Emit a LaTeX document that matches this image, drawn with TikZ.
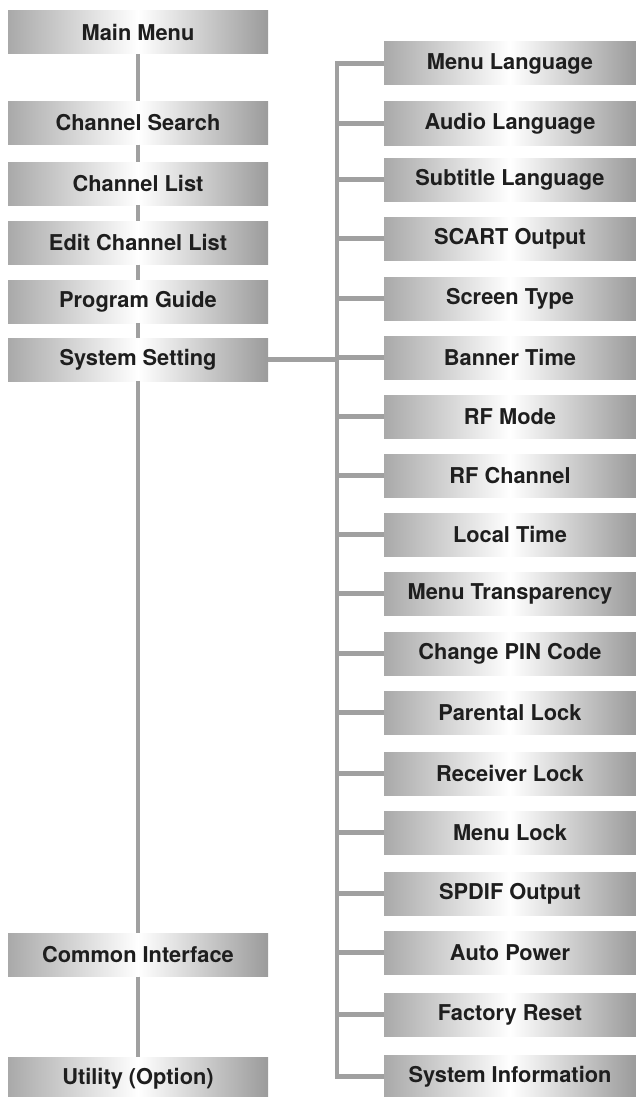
\documentclass[tikz,border=0pt]{standalone}
\usepackage{fontspec}
\setmainfont{TeX Gyre Heros}
\usepackage{tikz}
\usetikzlibrary{
  positioning,
  calc
}
\definecolor{boxleft}{HTML}{A9A9A9}
\definecolor{boxright}{HTML}{9B9B9B}
\definecolor{linkgray}{HTML}{A0A0A0}
\definecolor{labelink}{HTML}{1E1E1E}

\begin{document}
\begin{tikzpicture}[
    x=1pt, y=-1pt,
    menubox/.style={
      rectangle,
      inner sep=0pt,
      minimum height=43pt,
      left color=boxleft,
      right color=boxright,
      middle color=white,
      text=labelink,
      font=\fontsize{21.8}{23}\selectfont\bfseries
      },
    mainbox/.style={menubox, minimum width=260pt},
    subbox/.style={menubox, minimum width=252pt},
    link/.style={draw=linkgray, line width=4.5pt}
    ]
    
    \useasboundingbox (0,0) rectangle (636,1097);
    
    % linke spalte
    \node[mainbox] (main) at (138,32.5) {Main Menu};
    \node[mainbox] (search) at (138,123) {Channel Search};
    \node[mainbox] (list) at (138,183.5) {Channel List};
    \node[mainbox] (edit) at (138,243) {Edit Channel List};
    \node[mainbox] (guide) at (138,301.5) {Program Guide};
    \node[mainbox] (system) at (138,359.5) {System Setting};
    \node[mainbox] (ci) at (138,955) {Common Interface};
    \node[mainbox] (utility) at (138,1078.5) {Utility (Option)};
    
    % rechte spalte
    \foreach \name/\yy/\txt in {
      menulang/63.5/Menu Language,
      audiolang/123.5/Audio Language,
      sublang/179.5/Subtitle Language,
      scart/238.5/SCART Output,
      screen/298.5/Screen Type,
      banner/357.5/Banner Time,
      rfmode/416.5/RF Mode,
      rfchan/475.5/RF Channel,
      localtime/534.5/Local Time,
      transp/593.5/Menu Transparency,
      pin/653.5/Change PIN Code,
      parental/712.5/Parental Lock,
      receiver/773.5/Receiver Lock,
      menulock/832.5/Menu Lock,
      spdif/893.5/SPDIF Output,
      autopower/952.5/Auto Power,
      factory/1014.5/Factory Reset,
      sysinfo/1076.5/System Information}
    \node[subbox] (\name) at (510,\yy) {\txt};
    
    \coordinate (rtrunk) at (337,0);
    
    % verbindungen links
    \foreach \a/\b in {main/search, search/list, list/edit, edit/guide,
      guide/system, system/ci, ci/utility}
    \draw[link] (\a.south) -- (\b.north);
    
    \draw[link] (system.east) -- (system.east -| rtrunk);
    
    % verbindungen rechts
    \draw[link] (menulang.west) -- (menulang.west -| rtrunk)
      -- (sysinfo.west -| rtrunk) -- (sysinfo.west);
    
    \foreach \name in {audiolang, sublang, scart, screen, banner, rfmode,
      rfchan, localtime, transp, pin, parental, receiver, menulock, spdif,
      autopower, factory}
    \draw[link] (\name.west) -- (\name.west -| rtrunk);
    
\end{tikzpicture}
\end{document}
